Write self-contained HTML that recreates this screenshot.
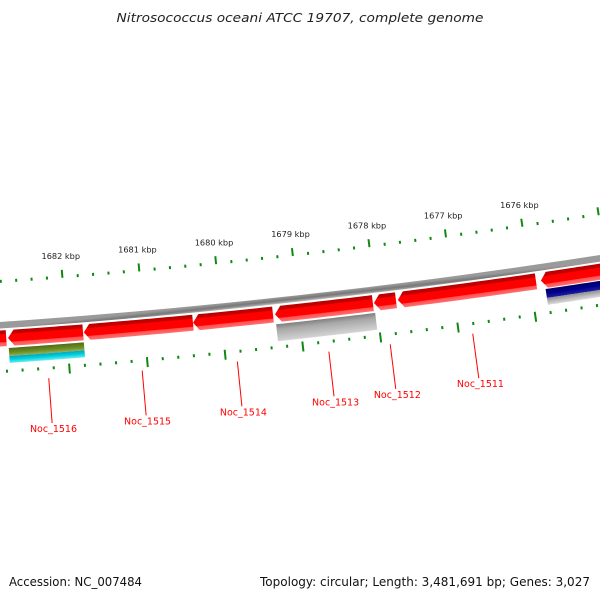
<!DOCTYPE html>
<html><head><meta charset="utf-8"><style>
html,body{margin:0;padding:0;background:#fff;}
svg{display:block;}
text{font-family:"DejaVu Sans","Liberation Sans",sans-serif;}
</style></head><body>
<svg id="chart" width="600" height="600" viewBox="0 0 600 600" xmlns="http://www.w3.org/2000/svg">
<defs id="defs"></defs>
<rect width="600" height="600" fill="#fff"/>
<text x="300" y="22" text-anchor="middle" font-size="12.5" font-style="italic" fill="#222" textLength="367" lengthAdjust="spacingAndGlyphs">Nitrosococcus oceani ATCC 19707, complete genome</text>
<text x="9" y="586" font-size="12" fill="#111" textLength="133" lengthAdjust="spacingAndGlyphs">Accession: NC_007484</text>
<text x="590" y="586" text-anchor="end" font-size="12" fill="#111" textLength="330" lengthAdjust="spacingAndGlyphs">Topology: circular; Length: 3,481,691 bp; Genes: 3,027</text>
<g id="plot"></g>
</svg>
<script>
// ---- data (kbp) ----
const geneStart = [1682.78, 1681.79, 1680.371, 1679.337, 1678.044, 1677.745, 1675.928, 1674.6];
const geneEnd   = [1683.60, 1682.757, 1681.78, 1680.37, 1679.31, 1678.03, 1677.72, 1675.864];
const geneLabel = ["", "Noc_1516", "Noc_1515", "Noc_1514", "Noc_1513", "Noc_1512", "Noc_1511", ""];
const featStart = [1681.79, 1681.79, 1678.03, 1674.6, 1674.6];
const featEnd   = [1682.757, 1682.757, 1679.31, 1675.82, 1675.82];
const featType  = ["olive", "cyan", "grey", "navy", "greylow"];
const tickMin = 1673, tickMax = 1685, tickStep = 0.2;
const tickLabelKbp = [1676, 1677, 1678, 1679, 1680, 1681, 1682];

// ---- geometry ----
const cx = -482, cy = -6715, R0 = 7057;
const t0 = 1.4931, k = 0.0110;
const ang = p => t0 + (p - 1682) * k;
const pt = (t, d) => [cx + (R0 + d) * Math.cos(t), cy + (R0 + d) * Math.sin(t)];
const plot = document.getElementById('plot');
const defs = document.getElementById('defs');
const NS = 'http://www.w3.org/2000/svg';
let gid = 0;
function mk(tag, attrs, parent) {
  const e = document.createElementNS(NS, tag);
  for (const a in attrs) e.setAttribute(a, attrs[a]);
  (parent || plot).appendChild(e);
  return e;
}
function arcPts(t1, t2, d, n) {
  const out = [];
  for (let i = 0; i <= n; i++) out.push(pt(t1 + (t2 - t1) * i / n, d));
  return out;
}
function grad(tm, d1, d2, stops) {
  const id = 'g' + (gid++);
  const a = pt(tm, d1), b = pt(tm, d2);
  const g = mk('linearGradient', {id: id, gradientUnits: 'userSpaceOnUse', x1: a[0], y1: a[1], x2: b[0], y2: b[1]}, defs);
  stops.forEach(s => mk('stop', {offset: s[0], 'stop-color': s[1]}, g));
  return 'url(#' + id + ')';
}
const P = a => a.map(p => p[0].toFixed(2) + ',' + p[1].toFixed(2)).join(' ');

// backbone
{
  const ta = ang(1686), tb = ang(1672);
  const bb = mk('polygon', {points: P(arcPts(ta, tb, -3.5, 60).concat(arcPts(tb, ta, 3, 60))),
    fill: grad(ang(1679), -3.5, 3, [[0, '#9a9a9a'], [0.5, '#777'], [0.8, '#9c9c9c'], [1, '#c8c8c8']])});
  
  
}

// ticks
for (let p = tickMin; p <= tickMax + 1e-9; p += tickStep) {
  const pr = Math.round(p * 10) / 10;
  const major = Math.abs(pr - Math.round(pr)) < 1e-6;
  const t = ang(pr);
  const o1 = pt(t, major ? -51 : -45.5), o2 = pt(t, major ? -43 : -42.5);
  const tk = mk('line', {x1: o1[0], y1: o1[1], x2: o2[0], y2: o2[1], stroke: '#118811', 'stroke-width': 2});
  
  
  const i1 = pt(t, major ? 43 : 44.5), i2 = pt(t, major ? 53 : 47.5);
  const tk2 = mk('line', {x1: i1[0], y1: i1[1], x2: i2[0], y2: i2[1], stroke: '#118811', 'stroke-width': 2});
  
  
}
tickLabelKbp.forEach(v => {
  const q = pt(ang(v), -64);
  const tx = mk('text', {x: q[0], y: q[1] + 2, 'text-anchor': 'middle', 'font-size': 8.2, fill: '#222'});
  tx.textContent = v + ' kbp';
  
  
});

// arrow shape
function arrowPts(s, e, d1, d2) {
  const ts = ang(s), te = ang(e);
  const h = 6 / R0;
  const tb = Math.max(ts, te - h);
  return arcPts(ts, tb, d1, 20).concat([pt(te, (d1 + d2) / 2)]).concat(arcPts(tb, ts, d2, 20));
}

// genes
for (let i = 0; i < geneStart.length; i++) {
  const tm = ang((geneStart[i] + geneEnd[i]) / 2);
  const g = mk('polygon', {points: P(arrowPts(geneStart[i], geneEnd[i], 5, 21)),
    fill: grad(tm, 5, 21, [[0, '#b80000'], [0.22, '#c80000'], [0.26, '#ff0000'], [0.72, '#ff0000'], [0.76, '#ff5050'], [1, '#ff7070']])});
  
  
  if (geneLabel[i]) {
    const a = pt(tm, 56), b = pt(tm, 101), c = pt(tm, 106);
    const ln = mk('line', {x1: a[0], y1: a[1], x2: b[0], y2: b[1], stroke: '#ff0000', 'stroke-width': 1});
    
    
    const tx = mk('text', {x: c[0] + 1, y: c[1] + 4, 'text-anchor': 'middle', 'font-size': 9.5, fill: '#ff0000'});
    tx.textContent = geneLabel[i];
    
    
  }
}

// second ring features
const featStyle = {
  olive: [23, 31, [[0, '#4f6e12'], [0.6, '#6f8f2a'], [1, '#98b050']]],
  cyan: [31, 38, [[0, '#00a8b8'], [0.5, '#00d0e0'], [1, '#70ecf0']]],
  grey: [23, 40, [[0, '#808080'], [0.3, '#a8a8a8'], [1, '#d4d4d4']]],
  navy: [22, 31, [[0, '#000060'], [0.5, '#000090'], [1, '#2020a0']]],
  greylow: [31, 38, [[0, '#909090'], [0.5, '#b8b8b8'], [1, '#dcdcdc']]]
};
for (let i = 0; i < featStart.length; i++) {
  const st = featStyle[featType[i]];
  const ts = ang(featStart[i]), te = ang(featEnd[i]);
  const f = mk('polygon', {points: P(arcPts(ts, te, st[0], 20).concat(arcPts(te, ts, st[1], 20))),
    fill: grad((ts + te) / 2, st[0], st[1], st[2])});
  
  
}
</script>
</body></html>
